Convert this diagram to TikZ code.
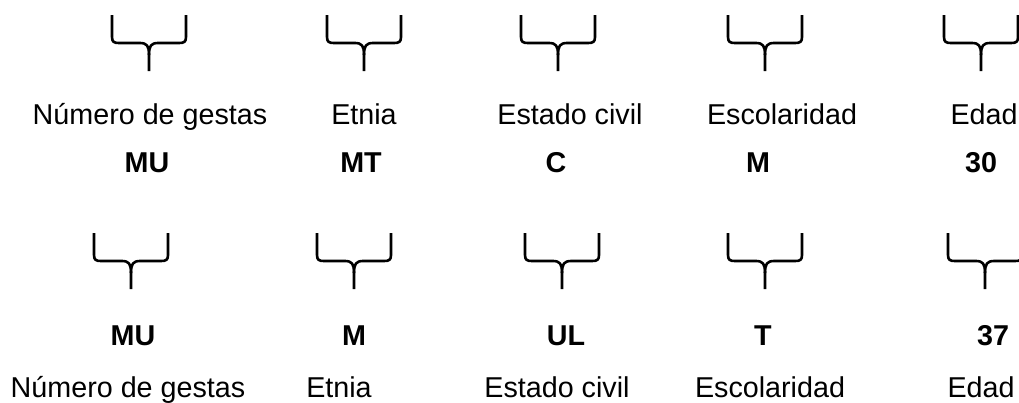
\documentclass[tikz,border=0pt]{standalone}
\usepackage{fontspec}
\setmainfont{Liberation Sans}
\begin{document}
\begin{tikzpicture}[x=1pt,y=-1pt,
  bracestroke/.style={line width=2.6pt,line join=round,line cap=butt},
  lbl/.style={anchor=base,inner sep=0pt,font=\fontsize{28.7}{34}\selectfont},
  val/.style={anchor=base,inner sep=0pt,font=\fontsize{28.7}{34}\selectfont\bfseries},
  bracepic/.pic={
    \draw[bracestroke] (-37,0) -- (-37,22) .. controls (-37,27) and (-35,28) .. (-30,28)
      -- (-9,28) .. controls (-2,28) and (0,31) .. (0,40) -- (0,56);
    \draw[bracestroke] (37,0) -- (37,22) .. controls (37,27) and (35,28) .. (30,28)
      -- (9,28) .. controls (2,28) and (0,31) .. (0,40);
  }]
\useasboundingbox (0,0) rectangle (1019,402);
% top row braces
\pic (tb1) at (149,15) {bracepic};
\pic (tb2) at (364,15) {bracepic};
\pic (tb3) at (558,15) {bracepic};
\pic (tb4) at (765,15) {bracepic};
\pic (tb5) at (981,15) {bracepic};
% top row labels
\node[lbl] (tl1) at (150,124) {Número de gestas};
\node[lbl] (tl2) at (364,124) {Etnia};
\node[lbl] (tl3) at (570,124) {Estado civil};
\node[lbl] (tl4) at (782,124) {Escolaridad};
\node[lbl] (tl5) at (984,124) {Edad};
% top row values
\node[val] (tv1) at (147,172) {MU};
\node[val] (tv2) at (361,172) {MT};
\node[val] (tv3) at (556,172) {C};
\node[val] (tv4) at (758,172) {M};
\node[val] (tv5) at (981,172) {30};
% bottom row braces
\pic (bb1) at (131,233) {bracepic};
\pic (bb2) at (354,233) {bracepic};
\pic (bb3) at (562,233) {bracepic};
\pic (bb4) at (765,233) {bracepic};
\pic (bb5) at (985,233) {bracepic};
% bottom row values
\node[val] (bv1) at (133,345) {MU};
\node[val] (bv2) at (354,345) {M};
\node[val] (bv3) at (566,345) {UL};
\node[val] (bv4) at (763,345) {T};
\node[val] (bv5) at (993,345) {37};
% bottom row labels
\node[lbl] (bl1) at (128,397) {Número de gestas};
\node[lbl] (bl2) at (339,397) {Etnia};
\node[lbl] (bl3) at (557,397) {Estado civil};
\node[lbl] (bl4) at (770,397) {Escolaridad};
\node[lbl] (bl5) at (981,397) {Edad};
\end{tikzpicture}
\end{document}
